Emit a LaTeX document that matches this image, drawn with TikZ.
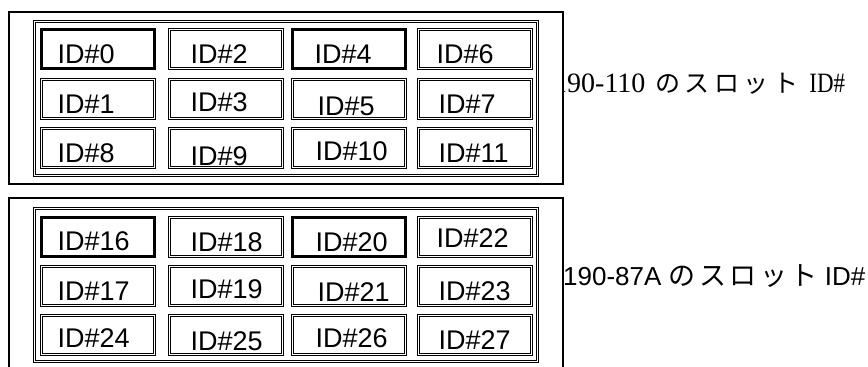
\documentclass[tikz,border=0pt]{standalone}
\usepackage{fontspec}
\setmainfont{Liberation Sans}
\newfontfamily\jp{Noto Sans CJK JP}
\newfontfamily\serifl{Liberation Serif}
\newfontfamily\serifn[FakeStretch=0.82]{Liberation Serif}
\tikzset{
  cellbox/.style={draw=black, double=white, double distance=1pt, line width=1pt,
    minimum width=113pt, minimum height=39pt, inner sep=0pt},
  selbox/.style={draw=black, line width=3pt, minimum width=113pt, minimum height=39pt, inner sep=0pt},
  idtext/.style={anchor=base west, inner sep=0pt, font=\fontsize{27}{27}\selectfont},
  framebox/.style={draw=black, double=white, double distance=1pt, line width=1pt},
  outerframe/.style={draw=black, line width=2pt},
  toplabel/.style={anchor=base west, inner sep=0pt, font=\fontsize{28}{28}\selectfont\serifl},
  botlabel/.style={anchor=base west, inner sep=0pt, font=\fontsize{26}{26}\selectfont},
}
\newcommand{\ksp}{\hspace{4.5pt}}
\newcommand{\kspb}{\hspace{3.5pt}}
\begin{document}
\begin{tikzpicture}[x=1pt,y=-1pt]
\useasboundingbox (0,0) rectangle (868,367);
% top label (its first digit is hidden by the frame)
\node[toplabel] (lab1) at (553,92) {190-110\hspace{3pt} {\jp\fontsize{25}{25}\selectfont の\ksp ス\ksp ロ\ksp ッ\ksp ト}\hspace{4pt} {\serifn ID\#}};
% top block
\fill[white] (8,11) rectangle (562,185);
\draw[outerframe] (9,12) rectangle (563,184);
\draw[framebox] (34.5,21.5) rectangle (537.5,175.5);
% bottom block
\draw[outerframe] (9,370) -- (9,198) -- (563,198) -- (563,370);
\draw[framebox] (34.5,208.5) rectangle (537.5,361.5);
\node[botlabel] (lab2) at (563,285) {190-87A {\jp\fontsize{27}{27}\selectfont の\kspb ス\kspb ロ\kspb ッ\kspb ト} ID\#};
% top cells
\node[selbox]  (c0)  at (98,49)   {};
\node[cellbox] (c2)  at (226,49)  {};
\node[selbox]  (c4)  at (349,49)  {};
\node[cellbox] (c6)  at (475,49)  {};
\node[cellbox] (c1)  at (98,99)   {};
\node[cellbox] (c3)  at (226,99)  {};
\node[cellbox] (c5)  at (349,99)  {};
\node[cellbox] (c7)  at (475,99)  {};
\node[cellbox] (c8)  at (98,148)  {};
\node[cellbox] (c9)  at (226,148) {};
\node[cellbox] (c10) at (349,148) {};
\node[cellbox] (c11) at (475,148) {};
% bottom cells
\node[selbox]  (c16) at (98,237)  {};
\node[cellbox] (c18) at (226,237) {};
\node[selbox]  (c20) at (349,237) {};
\node[cellbox] (c22) at (475,237) {};
\node[cellbox] (c17) at (98,286)  {};
\node[cellbox] (c19) at (226,286) {};
\node[cellbox] (c21) at (349,286) {};
\node[cellbox] (c23) at (475,286) {};
\node[cellbox] (c24) at (98,335)  {};
\node[cellbox] (c25) at (226,335) {};
\node[cellbox] (c26) at (349,335) {};
\node[cellbox] (c27) at (475,335) {};
% texts top
\node[idtext] (t0)  at (57.5,63)   {ID\#0};
\node[idtext] (t2)  at (190.5,63)  {ID\#2};
\node[idtext] (t4)  at (314.5,63)  {ID\#4};
\node[idtext] (t6)  at (436.5,63)  {ID\#6};
\node[idtext] (t1)  at (57.5,113)  {ID\#1};
\node[idtext] (t3)  at (190.5,111) {ID\#3};
\node[idtext] (t5)  at (317.5,115) {ID\#5};
\node[idtext] (t7)  at (438.5,113) {ID\#7};
\node[idtext] (t8)  at (57.5,162)  {ID\#8};
\node[idtext] (t9)  at (190.5,165) {ID\#9};
\node[idtext] (t10) at (315.5,160) {ID\#10};
\node[idtext] (t11) at (438.5,162) {ID\#11};
% texts bottom
\node[idtext] (t16) at (57.5,250)  {ID\#16};
\node[idtext] (t18) at (190.5,251) {ID\#18};
\node[idtext] (t20) at (315.5,251) {ID\#20};
\node[idtext] (t22) at (436.5,247) {ID\#22};
\node[idtext] (t17) at (57.5,300)  {ID\#17};
\node[idtext] (t19) at (190.5,298) {ID\#19};
\node[idtext] (t21) at (317.5,301) {ID\#21};
\node[idtext] (t23) at (438.5,300) {ID\#23};
\node[idtext] (t24) at (57.5,347)  {ID\#24};
\node[idtext] (t25) at (190.5,350) {ID\#25};
\node[idtext] (t26) at (315.5,347) {ID\#26};
\node[idtext] (t27) at (438.5,349) {ID\#27};
\end{tikzpicture}
\end{document}
